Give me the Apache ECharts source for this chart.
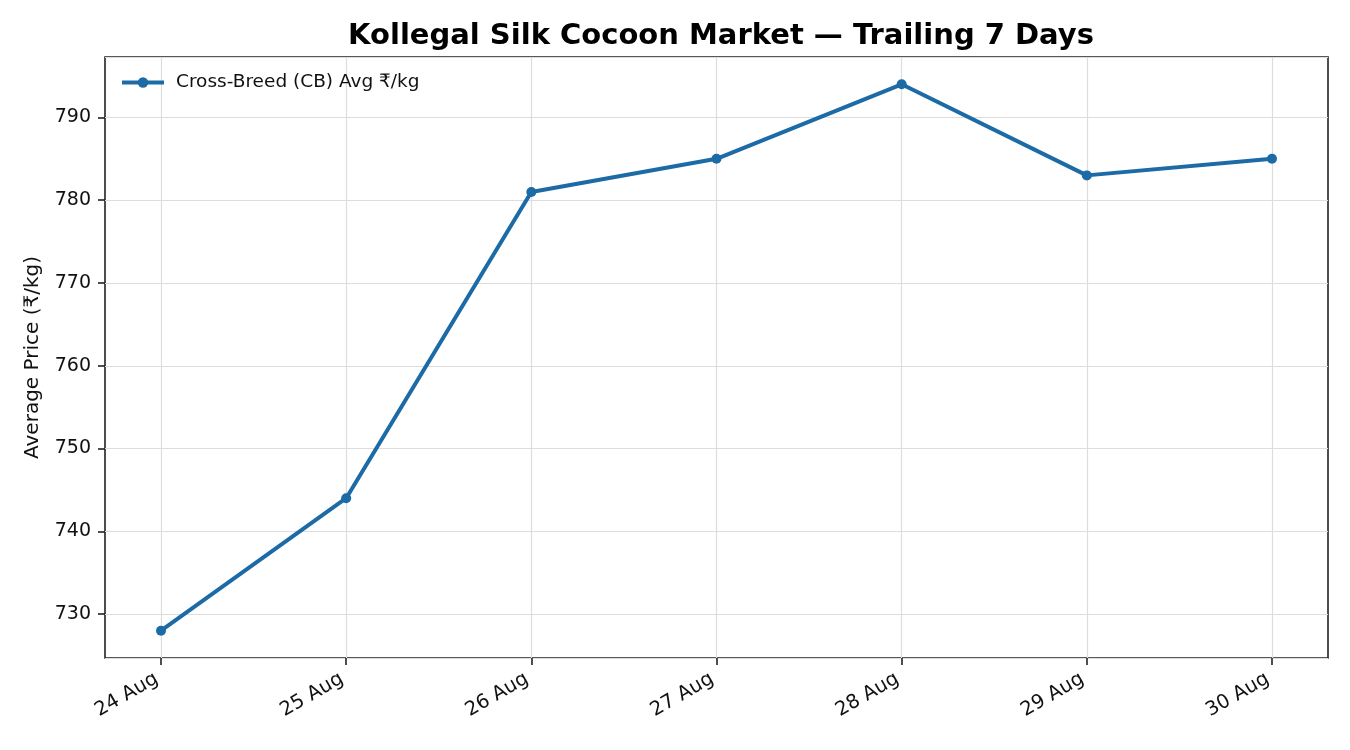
<!DOCTYPE html>
<html style="height: 100%" lang="en">
<head>
    <meta charset="utf-8">
    <script type="text/javascript" src="https://cdn.jsdelivr.net/npm/echarts@6/dist/echarts.min.js"></script>
    <title>Kollegal Silk Cocoon Market</title>
</head>
<body style="height: 100%; margin: 0; background: #fff">
<div id="container" style="width: 1350px; height: 750px"></div>
</body>
<script type="text/javascript">
    // data
    let days = ['24 Aug', '25 Aug', '26 Aug', '27 Aug', '28 Aug', '29 Aug', '30 Aug'];
    let cbPrice = [728, 744, 781, 785, 794, 783, 785];
    let seriesName = 'Cross-Breed (CB) Avg ₹/kg';

    let lineColor = '#1c6aa6';
    let font = 'DejaVu Sans';
    let yMin = 724.7, yMax = 797.3;

    let dom = document.getElementById('container');
    let myChart = echarts.init(dom);

    let option = {
        animation: false,
        textStyle: {fontFamily: font},
        title: {
            text: 'Kollegal Silk Cocoon Market — Trailing 7 Days',
            left: 716, top: 17, textAlign: 'center',
            textStyle: {fontSize: 29, fontWeight: 'bold', color: '#000', fontFamily: font}
        },
        legend: {
            left: 120, top: 73, padding: 0,
            itemWidth: 42, itemHeight: 13,
            lineStyle: {width: 4, color: lineColor},
            itemStyle: {color: lineColor},
            textStyle: {fontSize: 18.5, color: '#111', fontFamily: font, padding: [0, 0, 0, 7]},
            data: [seriesName]
        },
        grid: [
            // frame + y axis
            {left: 105, right: 22, top: 57, bottom: 92, show: true, borderColor: '#222', borderWidth: 1.6, backgroundColor: 'transparent'},
            // data area, inset like matplotlib margins
            {left: 161, right: 78, top: 57, bottom: 92}
        ],
        xAxis: [
            {gridIndex: 0, type: 'value', min: 0, max: 1, show: false},
            {
                gridIndex: 1, type: 'category', data: days, boundaryGap: false,
                axisLine: {show: false},
                axisTick: {show: true, length: 7, lineStyle: {color: '#222', width: 1.6}, alignWithLabel: true},
                axisLabel: {
                    rotate: 30, fontSize: 19.5, color: '#111', margin: 17, interval: 0,
                    fontFamily: font, padding: [0, 5, 0, 0]
                },
                splitLine: {show: true, lineStyle: {color: '#dddddd', width: 1.2}}
            }
        ],
        yAxis: [
            {
                gridIndex: 0, type: 'value', min: yMin, max: yMax,
                name: 'Average Price (₹/kg)', nameLocation: 'middle', nameGap: 62,
                nameTextStyle: {fontSize: 20, color: '#111', fontFamily: font},
                axisLine: {show: false},
                axisTick: {show: true, length: 7, lineStyle: {color: '#222', width: 1.6}},
                axisLabel: {fontSize: 19, color: '#111', margin: 14, showMinLabel: false, showMaxLabel: false, fontFamily: font},
                splitLine: {show: true, lineStyle: {color: '#dddddd', width: 1.2}}
            },
            {gridIndex: 1, type: 'value', min: yMin, max: yMax, show: false}
        ],
        series: [
            {
                name: seriesName,
                type: 'line',
                xAxisIndex: 1, yAxisIndex: 1,
                data: cbPrice,
                symbol: 'circle', symbolSize: 10,
                lineStyle: {color: lineColor, width: 4},
                itemStyle: {color: lineColor},
                z: 5
            }
        ]
    };

    myChart.setOption(option);
</script>
</html>
